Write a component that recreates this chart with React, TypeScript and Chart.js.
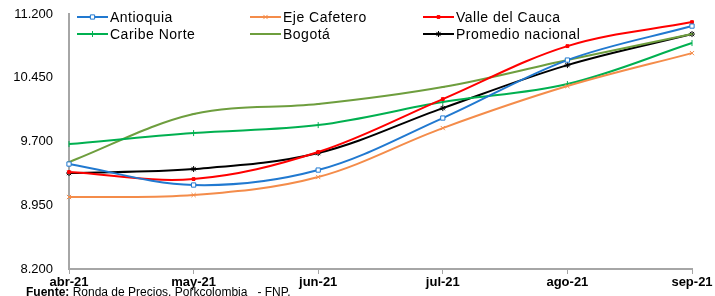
import React, { useEffect, useRef } from "react";
import { Chart, registerables } from "chart.js";
import { drawPoint } from "chart.js/helpers";

Chart.register(...registerables);

const labels = ["abr-21", "may-21", "jun-21", "jul-21", "ago-21", "sep-21"];
const antioquia = [9435, 9188, 9364, 9976, 10658, 11058];
const ejeCafetero = [9047, 9070, 9282, 9858, 10352, 10740];
const valleDelCauca = [9341, 9258, 9576, 10199, 10822, 11105];
const caribeNorte = [9670, 9799, 9893, 10164, 10376, 10858];
const bogota = [9458, 10023, 10140, 10340, 10658, 10964];
const promedioNacional = [9329, 9376, 9564, 10093, 10599, 10964];

const yMin = 8200;
const yMax = 11200;
const yStep = 750;

const FONT = "'Liberation Sans', Arial, sans-serif";

const fmt = (v: number) => {
  const s = Math.round(v).toString();
  return s.replace(/\B(?=(\d{3})+(?!\d))/g, ".");
};

const legendPos = [
  { x: 77, y: 17 },
  { x: 250, y: 17 },
  { x: 423, y: 17 },
  { x: 77, y: 34 },
  { x: 250, y: 34 },
  { x: 423, y: 34 },
];

const overlayPlugin = {
  id: "overlay",
  afterDraw(chart: any) {
    const ctx = chart.ctx as CanvasRenderingContext2D;
    ctx.save();
    chart.data.datasets.forEach((ds: any, i: number) => {
      const p = legendPos[i];
      ctx.strokeStyle = ds.borderColor;
      ctx.lineWidth = 2;
      ctx.beginPath();
      ctx.moveTo(p.x, p.y);
      ctx.lineTo(p.x + 31, p.y);
      ctx.stroke();
      ctx.fillStyle = ds.pointBackgroundColor || "#fff";
      ctx.strokeStyle = ds.pointBorderColor || ds.borderColor;
      ctx.lineWidth = 1;
      drawPoint(ctx, {
        pointStyle: ds.pointStyle,
        rotation: ds.pointRotation || 0,
        radius: ds.pointRadius,
        borderWidth: 1,
      } as any, p.x + 15.5, p.y);
      ctx.fillStyle = "#000";
      ctx.font = `14px ${FONT}`;
      (ctx as any).letterSpacing = "0.5px";
      ctx.textBaseline = "middle";
      ctx.textAlign = "left";
      ctx.fillText(ds.label, p.x + 33, p.y + 1);
    });
    (ctx as any).letterSpacing = "0px";
    ctx.textBaseline = "alphabetic";
    ctx.fillStyle = "#000";
    ctx.font = `bold 12px ${FONT}`;
    ctx.fillText("Fuente:", 26, 296);
    const w = ctx.measureText("Fuente: ").width;
    ctx.font = `12px ${FONT}`;
    ctx.fillText("Ronda de Precios. Porkcolombia   - FNP.", 26 + w, 296);
    ctx.restore();
  },
};

export default function App() {
  const ref = useRef<HTMLCanvasElement>(null);
  useEffect(() => {
    document.body.style.margin = "0";
    const mk = (
      label: string,
      data: number[],
      color: string,
      pointStyle: string,
      radius: number,
      fill: string,
      rotation = 0
    ) => ({
      label,
      data,
      borderColor: color,
      backgroundColor: color,
      borderWidth: 2,
      pointStyle,
      pointRadius: radius,
      pointRotation: rotation,
      pointBackgroundColor: fill,
      pointBorderColor: color,
      pointBorderWidth: 1,
      tension: 0.35,
      cubicInterpolationMode: "default",
    });
    const chart = new Chart(ref.current!, {
      type: "line",
      data: {
        labels,
        datasets: [
          mk("Antioquia", antioquia, "#2179D0", "rect", 3, "#ffffff"),
          mk("Eje Cafetero", ejeCafetero, "#F48C4A", "crossRot", 3, "#F48C4A"),
          mk("Valle del Cauca", valleDelCauca, "#FF0000", "rect", 2, "#FF0000"),
          mk("Caribe Norte", caribeNorte, "#00B050", "line", 3, "#00B050", 90),
          mk("Bogotá", bogota, "#6E9E3E", "line", 2, "#A8C890"),
          mk("Promedio nacional", promedioNacional, "#000000", "star", 3, "#000000"),
        ] as any,
      },
      options: {
        animation: false,
        responsive: false,
        maintainAspectRatio: false,
        layout: { padding: { left: 0, right: 23, top: 14, bottom: 0 } },
        plugins: {
          legend: { display: false },
          tooltip: { enabled: false },
        },
        scales: {
          x: {
            offset: false,
            grid: {
              display: true,
              drawOnChartArea: false,
              drawTicks: true,
              tickLength: 5,
              color: "#A6A6A6",
              lineWidth: 1,
            },
            border: { display: true, color: "#A6A6A6", width: 2 },
            ticks: {
              padding: 1,
              color: "#000",
              font: { family: FONT, size: 13, weight: "bold" },
              maxRotation: 0,
            },
            afterFit: (s: any) => {
              s.height = 27;
            },
          },
          y: {
            min: yMin,
            max: yMax,
            grid: {
              display: true,
              drawOnChartArea: false,
              drawTicks: true,
              tickLength: 14,
              color: "rgba(0,0,0,0)",
            },
            border: { display: true, color: "#A6A6A6", width: 2 },
            ticks: {
              stepSize: yStep,
              padding: 2,
              color: "#000",
              font: { family: FONT, size: 13 },
              callback: (v: any) => fmt(Number(v)),
            },
            afterFit: (s: any) => {
              s.width = 69;
            },
          },
        },
      } as any,
      plugins: [overlayPlugin],
    });
    return () => chart.destroy();
  }, []);
  return (
    <div style={{ position: "fixed", left: 0, top: 0, width: 715, height: 296, background: "#fff" }}>
      <canvas ref={ref} width={715} height={296} style={{ width: 715, height: 296 }} />
    </div>
  );
}
